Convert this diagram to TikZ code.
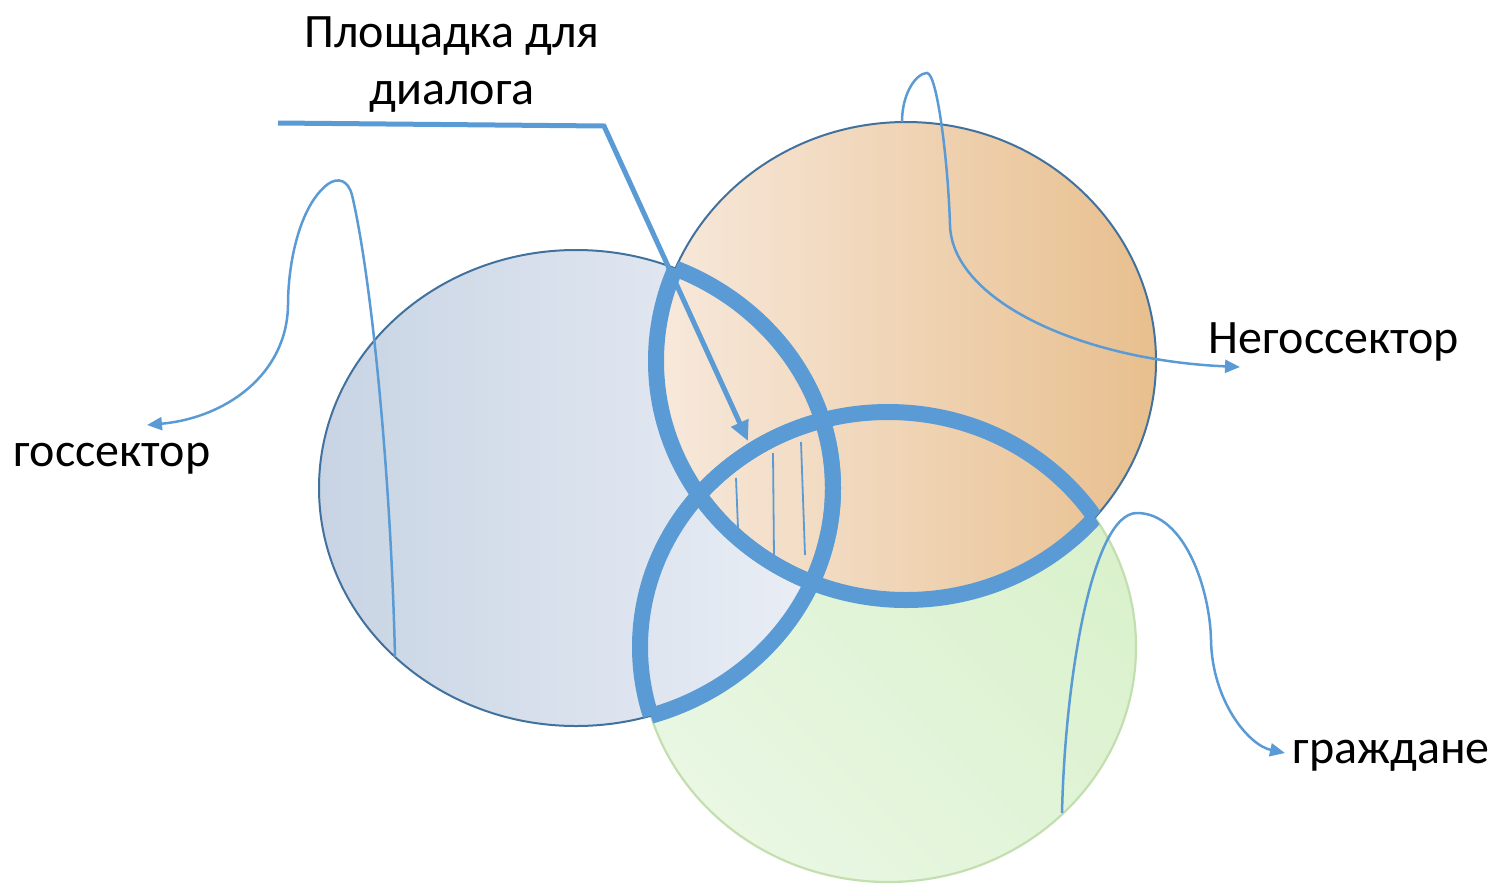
\documentclass[tikz,border=0pt]{standalone}
\usepackage{fontspec}
\setmainfont{Carlito}
\usetikzlibrary{arrows.meta}
\definecolor{lineblue}{HTML}{5B9BD5}
\definecolor{darkoutline}{HTML}{41719C}
\definecolor{greenoutline}{HTML}{C3DFB0}
\definecolor{blueL}{HTML}{C8D4E4}
\definecolor{blueR}{HTML}{EBEFF6}
\definecolor{orL}{HTML}{F7E9DC}
\definecolor{orR}{HTML}{E8BF8E}
\definecolor{greenA}{HTML}{E9F7E3}
\definecolor{greenB}{HTML}{D9F1CB}
\begin{document}
\begin{tikzpicture}[x=1pt,y=-1pt,
  lbl/.style={font=\fontsize{48pt}{57pt}\selectfont, inner sep=0pt, anchor=base, text=black},
  thickline/.style={draw=lineblue, line width=16pt},
  callout/.style={draw=lineblue, line width=2.5pt, -{Triangle[length=15pt,width=13pt]}},
  pointer/.style={draw=lineblue, line width=5pt, line join=miter, -{Triangle[length=20pt,width=18pt]}},
  hatch/.style={draw=lineblue, line width=1.8pt}]
\useasboundingbox (0,0) rectangle (1494,884);

% ellipses (green bottom, blue, orange on top)
\path[draw=greenoutline, line width=2.2pt, bottom color=greenA, top color=greenB, shading angle=-45]
  (888,647) ellipse [x radius=248pt, y radius=235pt];
\path[draw=darkoutline, line width=2pt, left color=blueL, right color=blueR]
  (576,488) ellipse [x radius=257pt, y radius=238pt];
\path[draw=darkoutline, line width=2pt, left color=orL, right color=orR]
  (906,361) ellipse [x radius=250pt, y radius=239pt];

% thick boundaries of pairwise overlaps
\begin{scope}
  \clip (576,488) ellipse [x radius=257pt, y radius=238pt];
  \path[thickline] (906,361) ellipse [x radius=250pt, y radius=239pt];
  \path[thickline] (888,647) ellipse [x radius=248pt, y radius=235pt];
\end{scope}
\begin{scope}
  \clip (906,361) ellipse [x radius=250pt, y radius=239pt];
  \path[thickline] (576,488) ellipse [x radius=257pt, y radius=238pt];
  \path[thickline] (888,647) ellipse [x radius=248pt, y radius=235pt];
\end{scope}
\begin{scope}
  \clip (888,647) ellipse [x radius=248pt, y radius=235pt];
  \path[thickline] (576,488) ellipse [x radius=257pt, y radius=238pt];
  \path[thickline] (906,361) ellipse [x radius=250pt, y radius=239pt];
\end{scope}

% hatch lines in the common area
\coordinate (h1a) at (736,478); \coordinate (h1b) at (738,528);
\coordinate (h2a) at (773,453); \coordinate (h2b) at (774,557);
\coordinate (h3a) at (801,442); \coordinate (h3b) at (805,555);
\path[hatch] (h1a) -- (h1b);
\path[hatch] (h2a) -- (h2b);
\path[hatch] (h3a) -- (h3b);

% labels
\node[lbl] (plosh) at (452,47) {Площадка для};
\node[lbl] (dialog) at (452,104) {диалога};
\node[lbl] (gos) at (112,466) {госсектор};
\node[lbl] (negos) at (1334,353) {Негоссектор};
\node[lbl] (grazh) at (1391,763) {граждане};

% pointer for "Площадка для диалога"
\coordinate (pStart) at (278,123);
\coordinate (pBend) at (604,126);
\coordinate (pTip) at (748,441);
\path[pointer] (pStart) -- (pBend) -- (pTip);

% callouts
\coordinate (gsStart) at (395,657);
\coordinate (gsTip) at (147,425);
\path[callout] (gsStart) .. controls (391,480) and (372,280) .. (352,195)
  .. controls (348,180) and (338,177) .. (328,184)
  .. controls (300,205) and (288,262) .. (288,305)
  .. controls (287,375) and (225,418) .. (gsTip);

\coordinate (ngStart) at (902,122);
\coordinate (ngTip) at (1240,367);
\path[callout] (ngStart) .. controls (902,92) and (917,73) .. (927,73)
  .. controls (937,73) and (948,160) .. (950,225)
  .. controls (952,300) and (1080,360) .. (ngTip);

\coordinate (grStart) at (1062,813);
\coordinate (grTip) at (1285,753);
\path[callout] (grStart) .. controls (1065,680) and (1092,513) .. (1137,513)
  .. controls (1185,513) and (1210,590) .. (1211,640)
  .. controls (1212,700) and (1248,745) .. (grTip);
\end{tikzpicture}
\end{document}
